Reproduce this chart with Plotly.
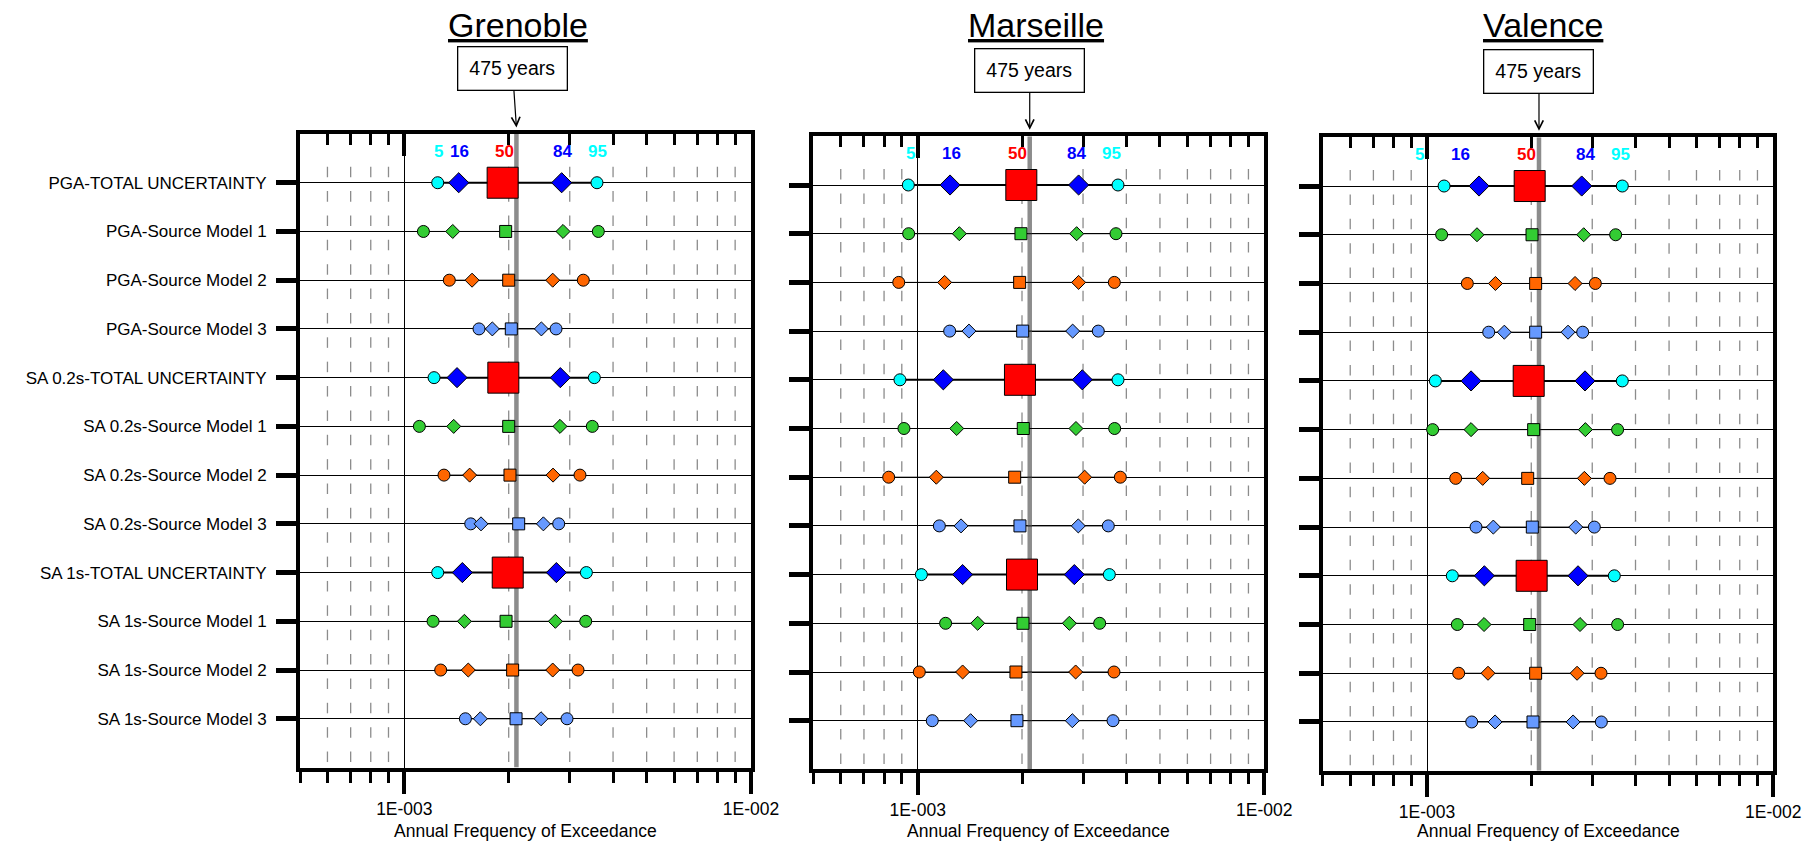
import math
import plotly.graph_objects as go

# ---------------- data ----------------
CATEGORIES = [
    "PGA-TOTAL UNCERTAINTY", "PGA-Source Model 1", "PGA-Source Model 2", "PGA-Source Model 3",
    "SA 0.2s-TOTAL UNCERTAINTY", "SA 0.2s-Source Model 1", "SA 0.2s-Source Model 2", "SA 0.2s-Source Model 3",
    "SA 1s-TOTAL UNCERTAINTY", "SA 1s-Source Model 1", "SA 1s-Source Model 2", "SA 1s-Source Model 3",
]
CITIES = ["Grenoble", "Marseille", "Valence"]
PERCENTILE_LABELS = ["5", "16", "50", "84", "95"]
RETURN_PERIOD = 475
X_TICK_VALUES = [1e-3, 1e-2]
X_TICK_LABELS = ["1E-003", "1E-002"]
X_TITLE = "Annual Frequency of Exceedance"
BOX_TEXT = "475 years"

# annual frequency of exceedance, in units of 1E-003
GRE_P05 = [1.248, 1.135, 1.348, 1.642, 1.218, 1.105, 1.301, 1.554, 1.248, 1.210, 1.273, 1.500]
GRE_P16 = [1.435, 1.379, 1.568, 1.794, 1.419, 1.388, 1.543, 1.664, 1.470, 1.490, 1.529, 1.657]
GRE_P50 = [1.921, 1.960, 2.000, 2.035, 1.930, 2.000, 2.017, 2.137, 1.987, 1.965, 2.053, 2.100]
GRE_P84 = [2.843, 2.869, 2.679, 2.485, 2.818, 2.812, 2.685, 2.518, 2.745, 2.727, 2.679, 2.479]
GRE_P95 = [3.595, 3.627, 3.283, 2.739, 3.532, 3.485, 3.211, 2.788, 3.350, 3.336, 3.170, 2.946]

MAR_P05 = [0.940, 0.942, 0.882, 1.237, 0.889, 0.913, 0.825, 1.155, 1.025, 1.204, 1.011, 1.102]
MAR_P16 = [1.240, 1.319, 1.196, 1.406, 1.186, 1.296, 1.132, 1.334, 1.348, 1.490, 1.348, 1.422]
MAR_P50 = [1.991, 1.986, 1.969, 2.009, 1.973, 2.017, 1.905, 1.973, 2.000, 2.013, 1.921, 1.934]
MAR_P84 = [2.913, 2.875, 2.913, 2.800, 2.985, 2.862, 3.032, 2.907, 2.831, 2.739, 2.856, 2.794]
MAR_P95 = [3.784, 3.734, 3.693, 3.320, 3.784, 3.701, 3.843, 3.548, 3.572, 3.350, 3.685, 3.661]

VAL_P05 = [1.120, 1.102, 1.307, 1.507, 1.057, 1.038, 1.210, 1.385, 1.183, 1.223, 1.234, 1.346]
VAL_P16 = [1.413, 1.394, 1.576, 1.672, 1.340, 1.340, 1.448, 1.554, 1.464, 1.461, 1.500, 1.572]
VAL_P50 = [1.979, 2.010, 2.059, 2.059, 1.966, 2.032, 1.953, 2.014, 2.005, 1.979, 2.059, 2.023]
VAL_P84 = [2.797, 2.834, 2.676, 2.554, 2.859, 2.866, 2.847, 2.688, 2.729, 2.766, 2.712, 2.641]
VAL_P95 = [3.664, 3.505, 3.062, 2.815, 3.664, 3.551, 3.376, 3.042, 3.474, 3.551, 3.180, 3.187]

CITY_DATA = [
    [GRE_P05, GRE_P16, GRE_P50, GRE_P84, GRE_P95],
    [MAR_P05, MAR_P16, MAR_P50, MAR_P84, MAR_P95],
    [VAL_P05, VAL_P16, VAL_P50, VAL_P84, VAL_P95],
]
UNIT = 1e-3

# ---------------- layout / style ----------------
W, H = 1812, 844
FONT = "Liberation Sans, Arial, sans-serif"
X_RANGE = [math.log10(5e-4), -2]
MINOR_VALS = [5e-4, 6e-4, 7e-4, 8e-4, 9e-4] + [k * 1e-3 for k in range(2, 10)]
GRID_VALS = MINOR_VALS[1:]

# panel plot areas in pixels: (left, right, top, bottom)
PANELS = [(300, 751, 134, 767.5), (813.3, 1264.3, 136.3, 769.4), (1322.8, 1773.3, 137.3, 770.7)]
TITLE_CX = [518.3, 1036, 1543]
BOX_DX = [-4, 0, 0]
PCT_LABEL_X = [
    [1.253e-3, 1.447e-3, 1.939e-3, 2.850e-3, 3.612e-3],
    [0.954e-3, 1.251e-3, 1.939e-3, 2.863e-3, 3.620e-3],
    [0.954e-3, 1.251e-3, 1.939e-3, 2.863e-3, 3.620e-3],
]
PCT_LABEL_COLORS = ["#00FFFF", "#0000FF", "#FF0000", "#0000FF", "#00FFFF"]

TOTAL_COLORS = ["#00FFFF", "#0000FF", "#FF0000", "#0000FF", "#00FFFF"]
MODEL_COLORS = ["#33CC33", "#FF6600", "#6699FF"]
SYMBOLS = ["circle", "diamond", "square", "diamond", "circle"]
TOTAL_SIZES = [12, 15.5, 31, 15.5, 12]
MODEL_SIZES = [12, 10.8, 12, 10.8, 12]


def fx(px):
    return px / W


def fy(py):
    return 1 - py / H


fig = go.Figure()
n_rows = len(CATEGORIES)
rows = list(range(1, n_rows + 1))

for p, city in enumerate(CITIES):
    sfx = "" if p == 0 else str(p + 1)
    xa, ya = "x" + sfx, "y" + sfx

    # dashed vertical grid segments (between the rows)
    centers = [i - 0.22 for i in range(1, n_rows + 2)] + [i + 0.28 for i in rows]
    gx, gy = [], []
    for v in GRID_VALS:
        for c in centers:
            gx += [v, v, None]
            gy += [c - 0.108, c + 0.108, None]
    fig.add_trace(go.Scatter(x=gx, y=gy, mode="lines", xaxis=xa, yaxis=ya,
                             line=dict(color="#8c8c8c", width=1.3),
                             hoverinfo="skip", showlegend=False))

    # 475-year return period line
    rp = 1.0 / RETURN_PERIOD
    fig.add_trace(go.Scatter(x=[rp, rp], y=[0, n_rows + 1], mode="lines", xaxis=xa, yaxis=ya,
                             line=dict(color="#8c8c8c", width=4.5),
                             hoverinfo="skip", showlegend=False))

    pct = CITY_DATA[p]
    for r in range(n_rows):
        xs = [pct[k][r] * UNIT for k in range(5)]
        is_total = (r % 4 == 0)
        if is_total:
            colors, sizes, lw = TOTAL_COLORS, TOTAL_SIZES, 2
        else:
            colors, sizes, lw = [MODEL_COLORS[r % 4 - 1]] * 5, MODEL_SIZES, 1
        fig.add_trace(go.Scatter(
            x=xs, y=[rows[r]] * 5, mode="lines+markers", xaxis=xa, yaxis=ya,
            line=dict(color="black", width=lw),
            marker=dict(symbol=SYMBOLS, size=sizes, color=colors, opacity=1,
                        line=dict(color="black", width=1)),
            name=CATEGORIES[r], showlegend=False,
            hovertemplate=city + " " + CATEGORIES[r] + ": %{x:.3e}<extra></extra>"))

    # empty trace on the top overlay axis (inside ticks)
    fig.add_trace(go.Scatter(x=[None], y=[None], xaxis="x" + str(p + 4), yaxis=ya,
                             hoverinfo="skip", showlegend=False))

    L, R, T, B = PANELS[p]
    key = "" if p == 0 else str(p + 1)
    fig.layout["xaxis" + key] = dict(
        domain=[fx(L), fx(R)], anchor=ya, type="log", range=X_RANGE, automargin=False,
        showline=True, linewidth=4, linecolor="black", mirror=True,
        ticks="outside", tickvals=X_TICK_VALUES, ticktext=X_TICK_LABELS,
        ticklen=22, tickwidth=3.5, tickcolor="black",
        tickfont=dict(family=FONT, size=17.5, color="black"),
        showgrid=True, gridcolor="black", gridwidth=1, zeroline=False,
        minor=dict(ticks="outside", tickvals=MINOR_VALS, ticklen=11, tickwidth=3,
                   tickcolor="black", showgrid=False),
        fixedrange=True,
    )
    fig.layout["xaxis" + str(p + 4)] = dict(
        overlaying=xa, side="top", anchor=ya, type="log", range=X_RANGE, automargin=False,
        showline=False, showgrid=False, zeroline=False, showticklabels=False,
        ticks="inside", tickvals=X_TICK_VALUES, ticklen=22, tickwidth=3.5, tickcolor="black",
        minor=dict(ticks="inside", tickvals=MINOR_VALS, ticklen=11, tickwidth=3,
                   tickcolor="black", showgrid=False),
        fixedrange=True,
    )
    fig.layout["yaxis" + key] = dict(
        domain=[fy(B), fy(T)], anchor=xa, range=[n_rows + 1, 0], automargin=False,
        tickvals=rows, ticktext=CATEGORIES, showticklabels=(p == 0),
        ticks="outside", ticklen=20, tickwidth=4.5, tickcolor="black",
        ticklabelstandoff=6,
        tickfont=dict(family=FONT, size=17, color="black"),
        showline=True, linewidth=4, linecolor="black", mirror=True,
        showgrid=True, gridcolor="black", gridwidth=1, zeroline=False,
        fixedrange=True,
    )

    # title
    fig.add_annotation(text="<u>" + city + "</u>", xref="paper", yref="paper",
                       x=fx(TITLE_CX[p]), y=fy(25), xanchor="center", yanchor="middle",
                       showarrow=False, font=dict(family=FONT, size=34, color="black"))
    # 475 years box + arrow
    fig.add_annotation(text=BOX_TEXT, xref=xa, yref="paper",
                       x=math.log10(rp), y=fy(T - 6.5), ax=BOX_DX[p], ay=-59,
                       showarrow=True, arrowhead=5, arrowsize=1.4, arrowwidth=1.2,
                       arrowcolor="black", standoff=0,
                       bordercolor="black", borderwidth=1.3, borderpad=2,
                       bgcolor="white", width=104, height=38,
                       font=dict(family=FONT, size=19.5, color="black"))
    # percentile labels
    for k in range(5):
        fig.add_annotation(text="<b>" + PERCENTILE_LABELS[k] + "</b>", xref=xa, yref=ya,
                           x=math.log10(PCT_LABEL_X[p][k]), y=0.36,
                           showarrow=False, xanchor="center", yanchor="middle",
                           font=dict(family=FONT, size=17, color=PCT_LABEL_COLORS[k]))
    # x-axis title
    fig.add_annotation(text=X_TITLE, xref="paper", yref="paper",
                       x=fx((L + R) / 2), y=fy(831), xanchor="center", yanchor="middle",
                       showarrow=False, font=dict(family=FONT, size=17.5, color="black"))

fig.update_layout(
    width=W, height=H, margin=dict(l=0, r=0, t=0, b=0, pad=0), autosize=False,
    paper_bgcolor="white", plot_bgcolor="white", showlegend=False,
    font=dict(family=FONT, color="black"),
)

fig.write_html("out.html")
